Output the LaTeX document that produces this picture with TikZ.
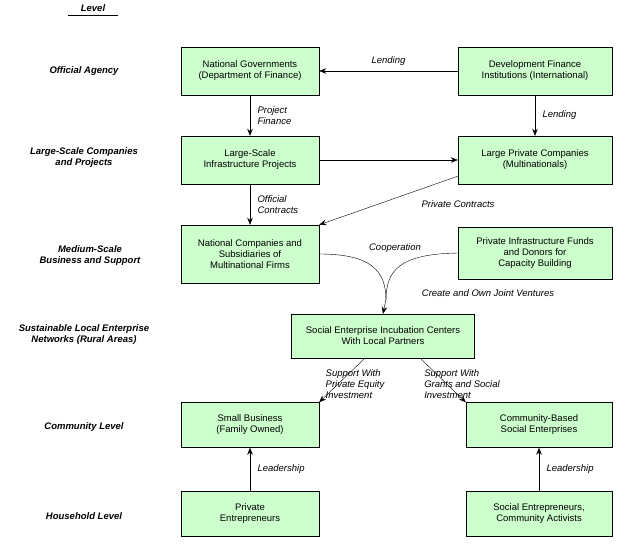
\documentclass[tikz,border=0pt]{standalone}
\usepackage{fontspec}
\setmainfont{Liberation Sans}
\usetikzlibrary{positioning,arrows.meta}
\definecolor{boxgreen}{HTML}{CCFFCC}

\begin{document}
\begin{tikzpicture}[x=1pt,y=-1pt,font=\fontsize{9.5}{11}\selectfont,
		box/.style={draw,fill=boxgreen,align=center,minimum width=138pt,minimum height=48pt},
		level/.style={font=\fontsize{9.5}{11}\selectfont\bfseries\itshape,align=center},
		lbl/.style={font=\fontsize{9.5}{11}\selectfont\itshape,align=left},
		link/.style={-{Stealth[length=7pt,width=5.5pt]}}
	]
	\useasboundingbox (0,0) rectangle (623,543);

	% Levels
	\node[level] (lvl) at (93,8) {Level};
	\draw (68,15) -- (118,15);
	\node[level] (lvlA) at (84,71) {Official Agency};
	\node[level] (lvlB) at (84,158) {Large-Scale Companies\\and Projects};
	\node[level] (lvlC) at (90,256) {Medium-Scale\\Business and Support};
	\node[level] (lvlD) at (84,335) {Sustainable Local Enterprise\\Networks (Rural Areas)};
	\node[level] (lvlE) at (84,427) {Community Level};
	\node[level] (lvlF) at (84,516) {Household Level};

	% Boxes
	\node[box] (gov) at (250,71) {National Governments\\(Department of Finance)};
	\node[box,minimum width=154pt] (dfi) at (535,71) {Development Finance\\Institutions (International)};
	\node[box] (infra) at (250,160) {Large-Scale\\Infrastructure Projects};
	\node[box,minimum width=154pt] (multi) at (535,160) {Large Private Companies\\(Multinationals)};
	\node[box,minimum height=58pt] (natco) at (250,254) {National Companies and\\Subsidiaries of\\Multinational Firms};
	\node[box,minimum width=154pt,minimum height=52pt] (funds) at (535,253) {Private Infrastructure Funds\\and Donors for\\Capacity Building};
	\node[box,minimum width=183pt,minimum height=44pt] (incub) at (383,336) {Social Enterprise Incubation Centers\\With Local Partners};
	\node[box,minimum height=45pt] (small) at (250,425) {Small Business\\(Family Owned)};
	\node[box,minimum width=146pt,minimum height=45pt] (social) at (539,425) {Community-Based\\Social Enterprises};
	\node[box,minimum height=45pt] (priv) at (250,514) {Private\\Entrepreneurs};
	\node[box,minimum width=146pt,minimum height=45pt] (activ) at (539,514) {Social Entrepreneurs,\\Community Activists};

	% Connectors
	\draw[link] (dfi) -- node[lbl,above=2pt] {Lending} (gov);
	\draw[link] (dfi) -- node[lbl,right=4pt] {Lending} (multi);
	\draw[link] (gov) -- node[lbl,right=4pt] {Project\\Finance} (infra);
	\draw[link] (infra) -- (multi);
	\draw[link] (infra) -- node[lbl,right=4pt] {Official\\Contracts} (natco);
	\draw[link] (multi.south west) ++(0,-8) coordinate (mc) (mc) -- (natco.north east);
	\node[lbl] (pc) at (458,204) {Private Contracts};
	\draw (natco.east) .. controls (370,254) and (386,270) .. (386,300);
	\draw (funds.west) .. controls (400,254) and (386,270) .. (386,300);
	\draw[link] (386,299) -- (incub.north);
	\node[lbl] (coop) at (395,248) {Cooperation};
	\node[lbl] (jv) at (488,293) {Create and Own Joint Ventures};
	\draw[link] (365,358) -- (small.north east);
	\draw[link] (420,358) -- (social.north west);
	\node[lbl] (pe) at (355,384) {Support With\\Private Equity\\Investment};
	\node[lbl] (gs) at (462,384) {Support With\\Grants and Social\\Investment};
	\draw[link] (priv) -- node[lbl,right=4pt] {Leadership} (small);
	\draw[link] (activ) -- node[lbl,right=4pt] {Leadership} (social);
\end{tikzpicture}
\end{document}
